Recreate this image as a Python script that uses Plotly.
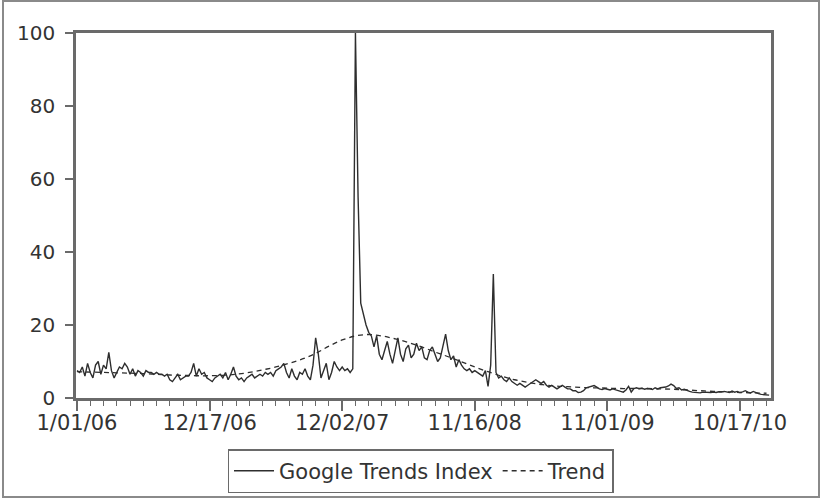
import numpy as np
import pandas as pd
import plotly.graph_objects as go

# Weekly Google Trends index, weeks starting 1/01/06
start_date = "2006-01-01"
index_values = [
    7.5, 7.0, 8.5, 6.0, 9.5, 7.0, 5.5, 9.0, 10.0, 6.5,
    9.0, 8.0, 12.5, 7.5, 5.5, 7.0, 8.5, 8.0, 9.5, 8.5,
    6.5, 8.0, 6.0, 7.5, 7.0, 6.0, 7.5, 7.0, 7.0, 6.5,
    7.0, 6.5, 6.5, 6.0, 6.5, 5.0, 4.5, 5.5, 6.5, 5.0,
    5.5, 6.0, 6.0, 7.0, 9.5, 6.0, 8.0, 6.5, 7.0, 5.5,
    5.0, 4.5, 5.5, 6.0, 6.5, 5.5, 7.0, 5.0, 6.5, 8.5,
    6.0, 5.0, 5.5, 4.5, 5.5, 6.0, 6.5, 5.5, 6.0, 6.5,
    6.0, 7.0, 6.5, 7.0, 6.0, 7.5, 8.0, 8.5, 9.5, 7.0,
    5.5, 8.0, 6.0, 5.0, 7.0, 6.5, 8.0, 6.0, 5.0, 9.0,
    16.5, 12.0, 5.5, 7.5, 9.5, 5.0, 7.0, 10.0, 8.5, 7.5,
    8.5, 7.5, 8.0, 7.0, 8.0, 100.0, 55.0, 26.0, 23.0, 20.0,
    18.0, 17.0, 14.0, 17.0, 12.0, 10.5, 13.0, 15.5, 12.0, 9.5,
    13.0, 16.5, 12.0, 10.0, 13.5, 14.5, 11.0, 12.0, 15.0, 13.0,
    14.0, 11.0, 10.5, 13.0, 14.0, 12.0, 10.0, 11.0, 14.0, 17.5,
    13.0, 10.5, 11.5, 8.5, 10.5, 9.0, 8.0, 7.5, 8.0, 7.0,
    7.5, 7.0, 6.5, 6.0, 7.5, 3.2, 9.0, 34.0, 7.0, 5.5,
    6.0, 5.0, 4.5, 5.5, 4.5, 4.0, 3.5, 4.0, 3.5, 3.0,
    3.5, 4.0, 4.5, 5.0, 4.5, 4.0, 4.5, 3.5, 3.0, 3.5,
    3.0, 2.5, 3.0, 3.5, 3.0, 2.5, 2.5, 2.0, 2.0, 1.5,
    1.6, 2.0, 2.8, 3.0, 3.2, 3.4, 3.0, 2.5, 2.3, 2.6,
    2.4, 2.2, 2.5, 2.2, 2.0, 1.8, 1.6, 2.2, 3.2, 1.6,
    2.6, 2.8, 2.5, 2.7, 2.4, 2.6, 2.5, 2.3, 2.8, 2.5,
    2.8, 2.8, 3.0, 3.3, 3.8, 3.4, 2.6, 2.8, 2.2, 2.4,
    2.0, 1.8, 1.6, 1.5, 1.5, 1.4, 1.6, 1.5, 1.4, 1.5,
    1.6, 1.5, 1.7, 1.6, 1.8, 1.7, 1.5, 1.9, 1.6, 1.8,
    1.5, 1.7, 2.0, 1.6, 1.4, 1.8, 1.4, 1.2, 1.0, 0.9,
    0.8, 0.8,
]

# Smoothed trend, one value every 5 weeks
trend_step_weeks = 5
trend_values = [
    7.2, 7.1, 7.0, 6.9, 6.8, 6.7, 6.5, 6.3, 6.2, 6.1,
    6.1, 6.2, 6.5, 7.0, 7.7, 8.5, 9.5, 10.7, 12.2, 14.2,
    15.9, 17.0, 17.4, 17.0, 16.2, 15.2, 14.0, 12.6, 11.3, 9.9,
    8.5, 7.2, 6.0, 5.0, 4.3, 3.7, 3.3, 3.1, 2.9, 2.8,
    2.7, 2.6, 2.6, 2.6, 2.5, 2.4, 2.2, 2.0, 1.8, 1.7,
    1.5, 1.4, 1.3,
]

y_ticks = [0, 20, 40, 60, 80, 100]

base = pd.Timestamp(start_date)
week = pd.Timedelta(days=7)
index_dates = [base + i * week for i in range(len(index_values))]
trend_dates = [base + i * trend_step_weeks * week for i in range(len(trend_values))]

ink = "#2e2e2e"
frame = "#6a6a6a"
font_family = "DejaVu Sans"

fig = go.Figure()
fig.add_trace(go.Scatter(
    x=index_dates, y=index_values, mode="lines",
    name="Google Trends Index",
    line=dict(color=ink, width=1.4),
))
fig.add_trace(go.Scatter(
    x=trend_dates, y=trend_values, mode="lines",
    name="Trend", line_shape="spline",
    line=dict(color=ink, width=1.3, dash="5px,4px"),
))

ms_week = 7 * 24 * 3600 * 1000
x_start = base - pd.Timedelta(days=2.6)
x_end = base + pd.Timedelta(days=261.7 * 7)

fig.update_layout(
    width=821, height=499,
    margin=dict(l=76, r=50, t=33, b=101, autoexpand=False),
    paper_bgcolor="white", plot_bgcolor="white",
    font=dict(family=font_family, size=20, color="#333333"),
    showlegend=True,
    legend=dict(
        orientation="h", x=0.4957, xanchor="center",
        y=-0.140, yanchor="top",
        bordercolor=frame, borderwidth=1.5,
        font=dict(size=21, color="#333333"),
        itemwidth=40, tracegroupgap=0,
    ),
    xaxis=dict(
        type="date", range=[x_start, x_end], automargin=False,
        tick0=start_date, dtick=50 * ms_week,
        tickformat="%-m/%d/%y",
        tickfont=dict(size=21),
        ticks="outside", ticklen=10, tickwidth=1.5, tickcolor=frame,
        ticklabelstandoff=-6,
        minor=dict(tick0=start_date, dtick=5 * ms_week, ticks="outside",
                   ticklen=5, tickwidth=1.2, tickcolor=frame),
        showline=True, linecolor=frame, linewidth=2.5, mirror=True,
        showgrid=False, zeroline=False,
    ),
    yaxis=dict(
        range=[0, 100], tickvals=y_ticks, automargin=False,
        tickfont=dict(size=20),
        ticks="outside", ticklen=8, tickwidth=1.5, tickcolor=frame,
        ticklabelstandoff=6,
        showline=True, linecolor=frame, linewidth=2.5, mirror=True,
        showgrid=False, zeroline=False,
    ),
    shapes=[dict(
        type="rect", xref="paper", yref="paper",
        x0=(3 - 76) / 695, x1=(819 - 76) / 695,
        y0=(398 - 497) / 365, y1=(398 - 1) / 365,
        line=dict(color="#8a8a8a", width=2), fillcolor="rgba(0,0,0,0)",
        layer="below",
    )],
)

fig.write_html("out.html")
